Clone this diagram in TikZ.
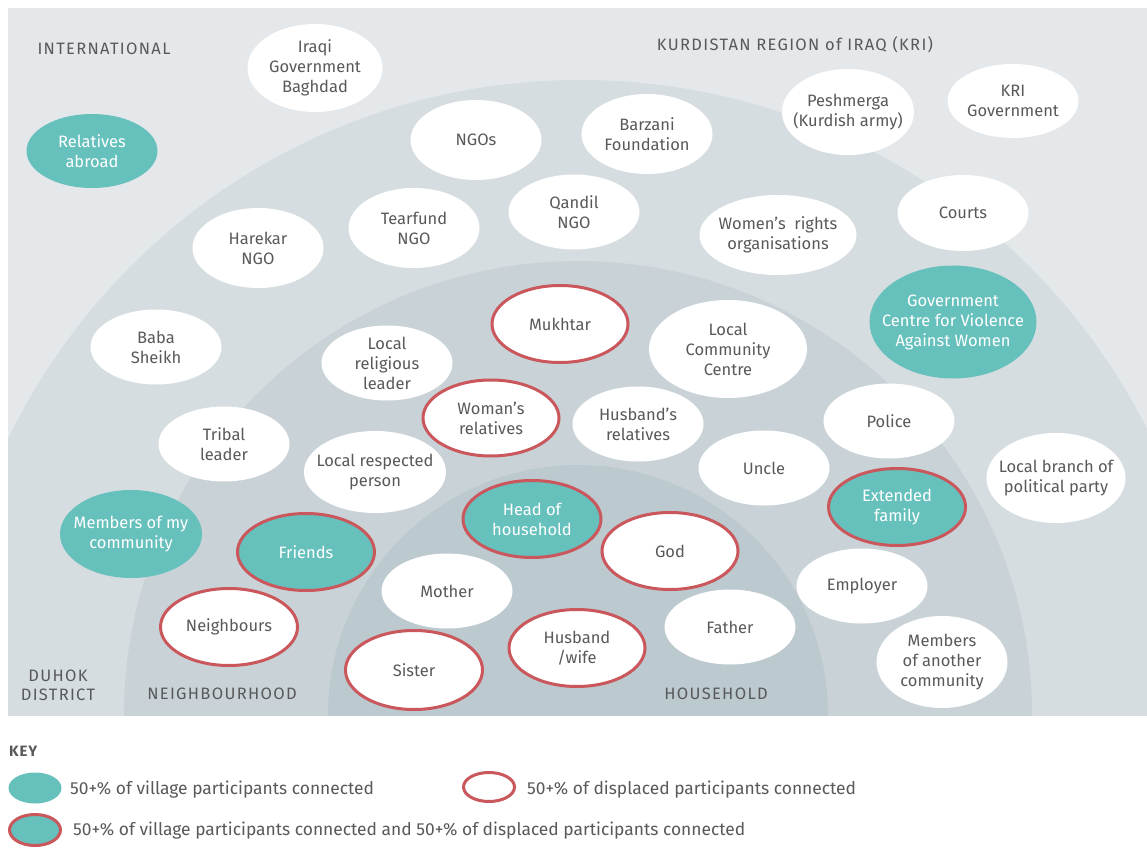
\documentclass[tikz,border=0pt]{standalone}
\usepackage{fontspec}
\setmainfont{Fira Sans}
\usetikzlibrary{shapes.geometric}
\definecolor{bgzone}{HTML}{E4E8EA}
\definecolor{districtzone}{HTML}{D6DDE0}
\definecolor{hoodzone}{HTML}{C9D3D7}
\definecolor{housezone}{HTML}{BCC9CE}
\definecolor{villageteal}{HTML}{66C0BC}
\definecolor{displacedred}{HTML}{C9575C}
\definecolor{textgrey}{HTML}{58595B}

\begin{document}
\begin{tikzpicture}[x=1pt,y=-1pt,
  actor/.style={ellipse,fill=white,text=textgrey,align=center,inner xsep=-22pt,inner ysep=-12pt,
    minimum width=131pt,minimum height=75pt,font=\fontsize{16.5}{20}\selectfont},
  village/.style={actor,fill=villageteal,text=white},
  displaced/.style={actor,draw=displacedred,line width=3pt},
  both/.style={village,draw=displacedred,line width=3pt},
  zonelabel/.style={text=textgrey,align=center,font=\fontsize{16.5}{19}\selectfont\addfontfeature{LetterSpace=8}},
  keytext/.style={text=textgrey,anchor=west,inner sep=0pt,font=\fontsize{17.4}{19}\selectfont}]
  \useasboundingbox (0,0) rectangle (1147,858);
  \fill [white] (0,0) rectangle (1147,858);
  % zones
  \begin{scope}
    \clip (8,8) rectangle (1147,715);
    \fill [bgzone] (8,8) rectangle (1147,715);
    \fill [districtzone] (580,715) circle (635pt);
    \fill [hoodzone] (578,715) circle (454pt);
    \fill [housezone] (578,715) circle (250pt);
  \end{scope}
  \node [zonelabel] (intl) at (104,49) {INTERNATIONAL};
  \node [zonelabel] (kri) at (795,45) {KURDISTAN REGION of IRAQ (KRI)};
  \node [zonelabel] (duhok) at (58,685) {DUHOK\\DISTRICT};
  \node [zonelabel] (hood) at (222,694) {NEIGHBOURHOOD};
  \node [zonelabel] (house) at (716,694) {HOUSEHOLD};
  % international and KRI
  \node [actor,minimum width=135pt,minimum height=88pt] (iraqgov) at (315,68) {Iraqi\\Government\\Baghdad};
  \node [village,minimum height=74pt] (relabroad) at (92,151) {Relatives\\abroad};
  \node [actor,minimum height=80pt] (ngos) at (476,140) {NGOs};
  \node [actor,minimum height=80pt] (barzani) at (647,134) {Barzani\\Foundation};
  \node [actor,minimum width=132pt,minimum height=86pt] (peshmerga) at (848,112) {Peshmerga\\(Kurdish army)};
  \node [actor,minimum height=74pt] (krigov) at (1013,101) {KRI\\Government};
  \node [actor,minimum height=80pt] (harekar) at (258,248) {Harekar\\NGO};
  \node [actor,minimum height=80pt] (tearfund) at (414,228) {Tearfund\\NGO};
  \node [actor] (qandil) at (574,212) {Qandil\\NGO};
  \node [actor,minimum width=157pt,minimum height=80pt] (womenrights) at (778,235) {Women's~ rights\\organisations};
  \node [actor,minimum height=76pt] (courts) at (963,213) {Courts};
  \node [village,minimum width=167pt,minimum height=113pt] (govcentre) at (953,322) {Government\\Centre for Violence\\Against Women};
  % district
  \node [actor] (babasheikh) at (156,347) {Baba\\Sheikh};
  \node [displaced,minimum width=136pt,minimum height=77pt] (mukhtar) at (560,324) {Mukhtar};
  \node [actor,minimum width=158pt,minimum height=98pt] (localcomm) at (728,349) {Local\\Community\\Centre};
  \node [actor] (religious) at (387,363) {Local\\religious\\leader};
  \node [displaced,minimum width=136pt,minimum height=76pt] (womanrel) at (491,418) {Woman's\\relatives};
  \node [actor] (husbandrel) at (638,424) {Husband's\\relatives};
  \node [actor] (police) at (889,421) {Police};
  \node [actor] (tribal) at (224,444) {Tribal\\leader};
  \node [actor,minimum width=142pt,minimum height=82pt] (respected) at (375,472) {Local respected\\person};
  \node [actor] (uncle) at (764,468) {Uncle};
  \node [actor,minimum width=139pt,minimum height=90pt] (politicalparty) at (1056,478) {Local branch of\\political party};
  \node [village,minimum width=142pt,minimum height=88pt] (mycommunity) at (131,534) {Members of my\\community};
  % neighbourhood and household
  \node [both,minimum width=138pt,minimum height=77pt] (headhh) at (532,519) {Head of\\household};
  \node [both,minimum width=137pt,minimum height=77pt] (extfamily) at (897,507) {Extended\\family};
  \node [both,minimum width=137pt,minimum height=77pt] (friends) at (306,552) {Friends};
  \node [displaced,minimum width=136pt,minimum height=77pt] (god) at (670,551) {God};
  \node [actor] (mother) at (447,591) {Mother};
  \node [actor] (employer) at (862,586) {Employer};
  \node [displaced,minimum width=137pt,minimum height=77pt] (neighbours) at (229,627) {Neighbours};
  \node [actor] (father) at (730,627) {Father};
  \node [displaced,minimum width=136pt,minimum height=77pt] (husbandwife) at (577,648) {Husband\\/wife};
  \node [displaced,minimum width=137pt,minimum height=79pt] (sister) at (414,670) {Sister};
  \node [actor,minimum height=92pt] (anothercomm) at (942,662) {Members\\of another\\community};
  % key
  \node [text=textgrey,anchor=west,inner sep=0pt,font=\fontsize{15}{18}\selectfont\bfseries\addfontfeature{LetterSpace=6}] (key) at (9,751) {KEY};
  \node [village,minimum width=53pt,minimum height=31pt] (keyvillage) at (35,788) {};
  \node [keytext] (keyvillagetext) at (70,790) {50+\% of village participants connected};
  \node [displaced,minimum width=51pt,minimum height=29pt] (keydisplaced) at (489,787) {};
  \node [keytext] (keydisplacedtext) at (527,790) {50+\% of displaced participants connected};
  \node [both,minimum width=51pt,minimum height=31pt] (keyboth) at (35,830) {};
  \node [keytext] (keybothtext) at (73,831) {50+\% of village participants connected and 50+\% of displaced participants connected};
\end{tikzpicture}
\end{document}
